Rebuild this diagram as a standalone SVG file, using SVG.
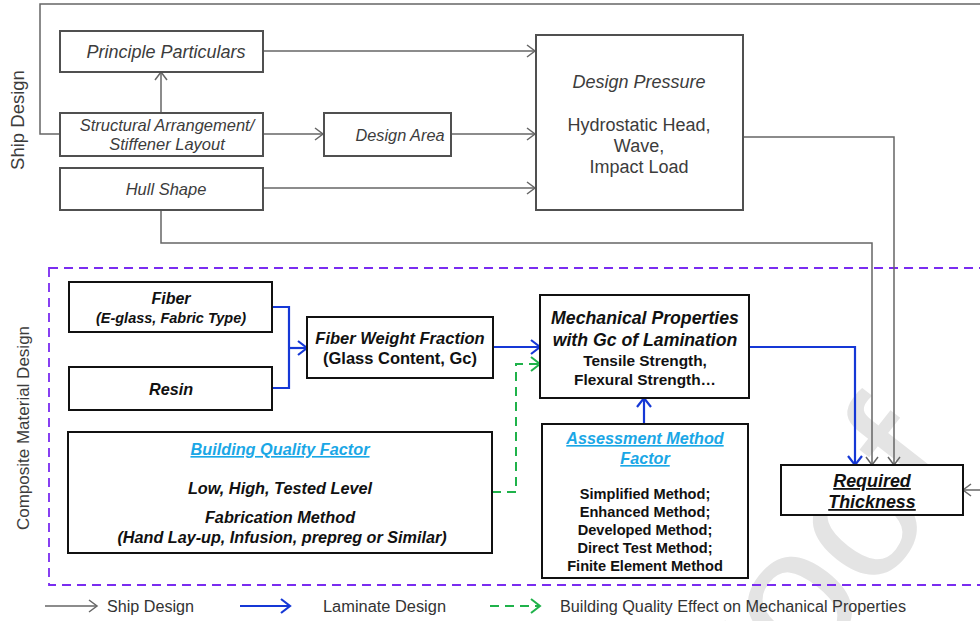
<svg xmlns="http://www.w3.org/2000/svg" width="980" height="621" viewBox="0 0 980 621">
<defs>
<style>
.wm{font-family:"Liberation Sans",Arial,sans-serif;font-size:190px;fill:#e4e4e4}
.tb{fill:#fff;stroke:#505050;stroke-width:2}
.bb{fill:#fff;stroke:#111;stroke-width:2}
.tt{font-family:"Liberation Sans",Arial,sans-serif;fill:#3c3c3c;text-anchor:middle}
.bt{font-family:"Liberation Sans",Arial,sans-serif;fill:#111;text-anchor:middle;font-weight:bold}
.it{font-style:italic}
.lnk{fill:#1aa7e6;text-decoration:underline}
.side{font-family:"Liberation Sans",Arial,sans-serif;fill:#3c3c3c;text-anchor:middle}
.leg{font-family:"Liberation Sans Narrow","Liberation Sans",Arial,sans-serif;font-size:16px;fill:#333}
.g{fill:none;stroke:#666;stroke-width:1.5}
.b{fill:none;stroke:#1538d6;stroke-width:2.2}
.gr{fill:none;stroke:#1fb24a;stroke-width:2;stroke-dasharray:9,6}
.pu{fill:none;stroke:#7a2cf0;stroke-width:1.8;stroke-dasharray:9,6}
</style>
<marker id="ag" markerUnits="userSpaceOnUse" markerWidth="14" markerHeight="14" refX="10" refY="7" orient="auto"><path d="M2,1 L10,7 L2,13" fill="none" stroke="#666" stroke-width="1.5"/></marker>
<marker id="ab" markerUnits="userSpaceOnUse" markerWidth="14" markerHeight="16" refX="11" refY="8" orient="auto"><path d="M2,1 L11,8 L2,15" fill="none" stroke="#1538d6" stroke-width="2.2"/></marker>
<marker id="agr" markerUnits="userSpaceOnUse" markerWidth="14" markerHeight="16" refX="11" refY="8" orient="auto"><path d="M2,1 L11,8 L2,15" fill="none" stroke="#1fb24a" stroke-width="2"/></marker>
</defs>
<rect width="980" height="621" fill="#fff"/>
<text class="wm" transform="translate(690,830) rotate(-52)">Proof</text>

<text class="side" font-size="18.5" transform="translate(24,120) rotate(-90)">Ship Design</text>
<text class="side" font-size="17" transform="translate(29,428) rotate(-90)">Composite Material Design</text>

<rect class="pu" x="49" y="268" width="940" height="317"/>

<g id="connectors">
<path class="g" d="M60,134 H40 V4 H990"/>
<path class="g" d="M161,113 V72" marker-end="url(#ag)"/>
<path class="g" d="M263,51 H535" marker-end="url(#ag)"/>
<path class="g" d="M263,134 H323" marker-end="url(#ag)"/>
<path class="g" d="M451,134 H535" marker-end="url(#ag)"/>
<path class="g" d="M263,188 H535" marker-end="url(#ag)"/>
<path class="g" d="M743,137 H894 V465" marker-end="url(#ag)"/>
<path class="g" d="M161,210 V243 H872 V465" marker-end="url(#ag)"/>
<path class="g" d="M985,490 H963" marker-end="url(#ag)"/>
<path class="b" d="M272,307 H289 V388 H272"/>
<path class="b" d="M289,348 H307" marker-end="url(#ab)"/>
<path class="b" d="M493,347 H540" marker-end="url(#ab)"/>
<path class="b" d="M749,347 H855 V465" marker-end="url(#ab)"/>
<path class="b" d="M644,424 V398" marker-end="url(#ab)"/>
<path class="gr" d="M492,492 H516 V364 H540" marker-end="url(#agr)"/>
</g>

<g id="principle-particulars">
<rect class="tb" x="60" y="31" width="203" height="41"/>
<text class="tt it" x="166" y="58" font-size="18">Principle Particulars</text>
</g>
<g id="structural-arrangement">
<rect class="tb" x="60" y="113" width="203" height="43"/>
<text class="tt it" x="167" y="131" font-size="16.5">Structural Arrangement/</text>
<text class="tt it" x="167" y="150" font-size="16.5">Stiffener Layout</text>
</g>
<g id="hull-shape">
<rect class="tb" x="60" y="168" width="203" height="42"/>
<text class="tt it" x="166" y="195" font-size="16.5">Hull Shape</text>
</g>
<g id="design-area">
<rect class="tb" x="324" y="113" width="127" height="43"/>
<text class="tt it" x="400" y="141" font-size="16.3">Design Area</text>
</g>
<g id="design-pressure">
<rect class="tb" x="536" y="35" width="207" height="175"/>
<text class="tt it" x="639" y="88" font-size="18">Design Pressure</text>
<text class="tt" x="639" y="131" font-size="18">Hydrostatic Head,</text>
<text class="tt" x="639" y="152" font-size="18">Wave,</text>
<text class="tt" x="639" y="173" font-size="18">Impact Load</text>
</g>

<g id="fiber">
<rect class="bb" x="69" y="282" width="203" height="50"/>
<text class="bt it" x="171" y="304" font-size="16">Fiber</text>
<text class="bt it" x="171" y="323" font-size="14.5">(E-glass, Fabric Type)</text>
</g>
<g id="resin">
<rect class="bb" x="69" y="367" width="203" height="43"/>
<text class="bt it" x="171" y="395" font-size="16.2">Resin</text>
</g>
<g id="fiber-weight-fraction">
<rect class="bb" x="307" y="317" width="186" height="61"/>
<text class="bt it" x="400" y="344" font-size="16.5">Fiber Weight Fraction</text>
<text class="bt" x="400" y="364" font-size="16.5">(Glass Content, Gc)</text>
</g>
<g id="building-quality-factor">
<rect class="bb" x="68" y="432" width="424" height="121"/>
<text class="bt it lnk" x="280" y="455" font-size="16.3">Building Quality Factor</text>
<text class="bt it" x="280" y="494" font-size="16.3">Low, High, Tested Level</text>
<text class="bt it" x="280" y="523" font-size="16.3">Fabrication Method</text>
<text class="bt it" x="282" y="543" font-size="16.2">(Hand Lay-up, Infusion, prepreg or Similar)</text>
</g>
<g id="mechanical-properties">
<rect class="bb" x="540" y="295" width="209" height="103"/>
<text class="bt it" x="645" y="324" font-size="17.7">Mechanical Properties</text>
<text class="bt it" x="645" y="346" font-size="17.7">with Gc of Lamination</text>
<text class="bt" x="645" y="366" font-size="15.4">Tensile Strength,</text>
<text class="bt" x="645" y="385" font-size="15.4">Flexural Strength…</text>
</g>
<g id="assessment-method-factor">
<rect class="bb" x="542" y="424" width="206" height="154"/>
<text class="bt it lnk" x="645" y="444" font-size="16.2">Assessment Method</text>
<text class="bt it lnk" x="645" y="464" font-size="16.2">Factor</text>
<text class="bt" x="645" y="499" font-size="14.6">Simplified Method;</text>
<text class="bt" x="645" y="517" font-size="14.6">Enhanced  Method;</text>
<text class="bt" x="645" y="535" font-size="14.6">Developed Method;</text>
<text class="bt" x="645" y="553" font-size="14.6">Direct Test Method;</text>
<text class="bt" x="645" y="571" font-size="14.6">Finite Element Method</text>
</g>
<g id="required-thickness">
<rect class="bb" x="781" y="465" width="182" height="50"/>
<text class="bt it" x="872" y="487" font-size="17.9" text-decoration="underline">Required</text>
<text class="bt it" x="872" y="508" font-size="17.9" text-decoration="underline">Thickness</text>
</g>

<g id="legend">
<path class="g" d="M45,606 H97" marker-end="url(#ag)"/>
<text class="leg" x="107" y="612" textLength="87" lengthAdjust="spacingAndGlyphs">Ship Design</text>
<path class="b" d="M240,606 H290" marker-end="url(#ab)"/>
<text class="leg" x="323" y="612" textLength="123" lengthAdjust="spacingAndGlyphs">Laminate Design</text>
<path class="gr" d="M490,606 H540" marker-end="url(#agr)"/>
<text class="leg" x="560" y="612" textLength="346" lengthAdjust="spacingAndGlyphs">Building Quality Effect on Mechanical Properties</text>
</g>
</svg>
